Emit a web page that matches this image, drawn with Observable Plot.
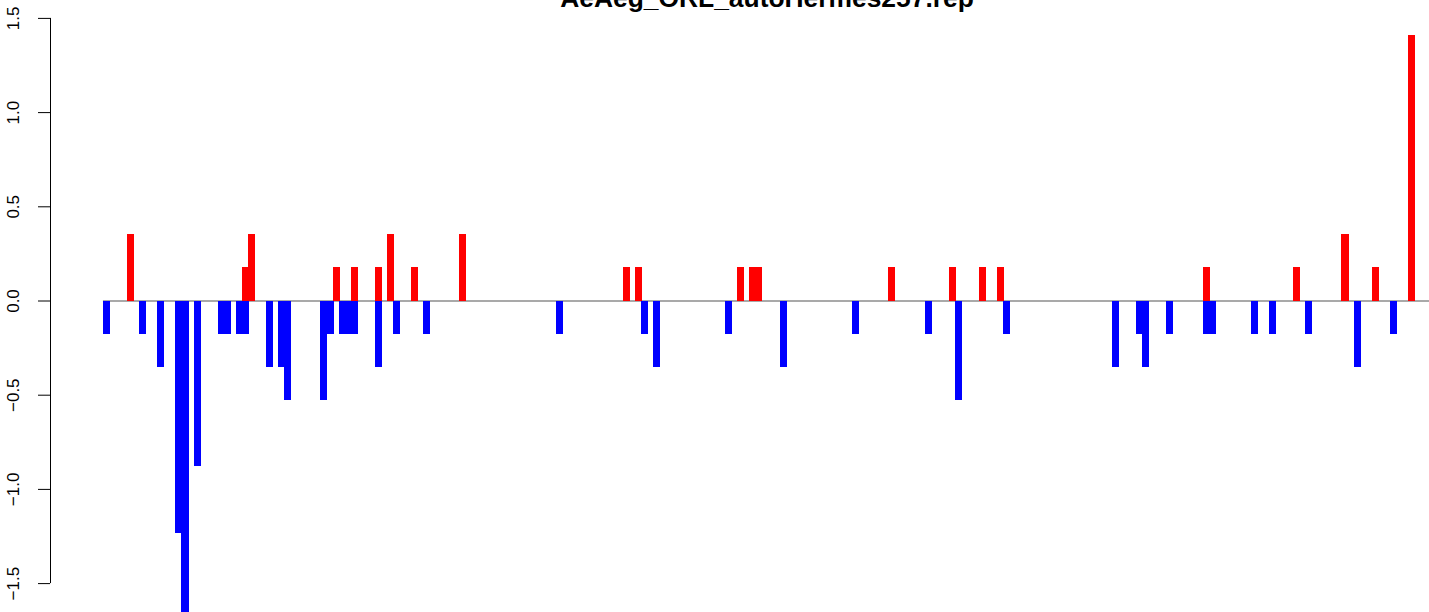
<!DOCTYPE html>
<html>
<head>
<meta charset="utf-8">
<script src="https://cdn.jsdelivr.net/npm/d3@7"></script>
<script src="https://cdn.jsdelivr.net/npm/@observablehq/plot@0.6"></script>
<style>
html, body { margin: 0; padding: 0; overflow: hidden; background: #fff; }
#chart svg { overflow: hidden; display: block; }
</style>
</head>
<body>
<div id="chart"></div>
<script>
// ---- data ----
const title = "AeAeg_ORL_autoHermes257.rep";
const nBars = 219;

const upIndex = [4, 23, 24, 38, 41, 45, 47, 51, 59, 86, 88, 105, 107, 108, 130, 140, 145, 148, 182, 197, 205, 210, 216];
const upValue = [0.352, 0.176, 0.352, 0.176, 0.176, 0.176, 0.352, 0.176, 0.352, 0.176, 0.176, 0.176, 0.176, 0.176, 0.176, 0.176, 0.176, 0.176, 0.176, 0.176, 0.352, 0.176, 1.409];

const downIndex = [0, 6, 9, 12, 13, 15, 19, 20, 22, 23, 27, 29, 30, 36, 37, 39, 40, 41, 45, 48, 53, 75, 89, 91, 103, 112, 124, 136, 141, 149, 167, 171, 172, 176, 182, 183, 190, 193, 199, 207, 213];
const downValue = [-0.176, -0.176, -0.352, -1.233, -1.761, -0.880, -0.176, -0.176, -0.176, -0.176, -0.352, -0.352, -0.528, -0.528, -0.176, -0.176, -0.176, -0.176, -0.352, -0.176, -0.176, -0.176, -0.176, -0.352, -0.176, -0.352, -0.176, -0.176, -0.528, -0.176, -0.352, -0.176, -0.352, -0.176, -0.176, -0.176, -0.176, -0.176, -0.176, -0.352, -0.176];

const yTicks = [-1.5, -1, -0.5, 0, 0.5, 1, 1.5];
const yTickLabels = ["\u22121.5", "\u22121.0", "\u22120.5", "0.0", "0.5", "1.0", "1.5"];

// ---- build ----
const up = upIndex.map((i, k) => ({i, v: upValue[k]}));
const down = downIndex.map((i, k) => ({i, v: downValue[k]}));

// R-style 4% axis extension around the bar range [0, nBars]
const xMin = -0.04 * nBars, xMax = 1.04 * nBars;
const pxPerBar = 6.0417;
const left = 50;

const chart = Plot.plot({
  width: 1429,
  height: 612,
  marginLeft: left, marginTop: 0, marginRight: 0, marginBottom: 0,
  style: {background: "#fff", fontFamily: "'Liberation Sans', Arial, Helvetica, sans-serif", color: "black"},
  x: {type: "linear", domain: [xMin, xMax], range: [left, left + (xMax - xMin) * pxPerBar], axis: null},
  y: {type: "linear", domain: [-1.5, 1.5], range: [583.1, 17.9], axis: null},
  marks: [
    Plot.ruleY([0], {x1: 0, x2: xMax, stroke: "#8c8c8c", strokeWidth: 1.5}),
    Plot.rect(down, {x1: d => d.i, x2: d => d.i + 1, y1: d => 0, y2: d => d.v, fill: "#0000ff", insetRight: -1, shapeRendering: "crispEdges"}),
    Plot.rect(up, {x1: d => d.i, x2: d => d.i + 1, y1: d => 0, y2: d => d.v, fill: "#ff0000", insetRight: -1, shapeRendering: "crispEdges"}),
    // y axis (R style)
    Plot.ruleX([xMin], {y1: yTicks[0], y2: yTicks[yTicks.length - 1], stroke: "black", strokeWidth: 1}),
    Plot.ruleY(yTicks, {y: d => d, x1: xMin, x2: xMin, insetLeft: -12, stroke: "black", strokeWidth: 1}),
    Plot.text(yTicks, {y: d => d, text: (d, i) => yTickLabels[i], frameAnchor: "left", rotate: -90, dx: -36.7, fontSize: 17, fill: "black", textAnchor: "middle", lineAnchor: "middle"}),
    // title centred on the plot region
    Plot.text([title], {x: nBars / 2, frameAnchor: "top", text: d => d, fontSize: 26.4, fontWeight: "bold", fill: "black", lineAnchor: "bottom", dy: 6.5, dx: 2})
  ]
});
document.getElementById("chart").appendChild(chart);
</script>
</body>
</html>
